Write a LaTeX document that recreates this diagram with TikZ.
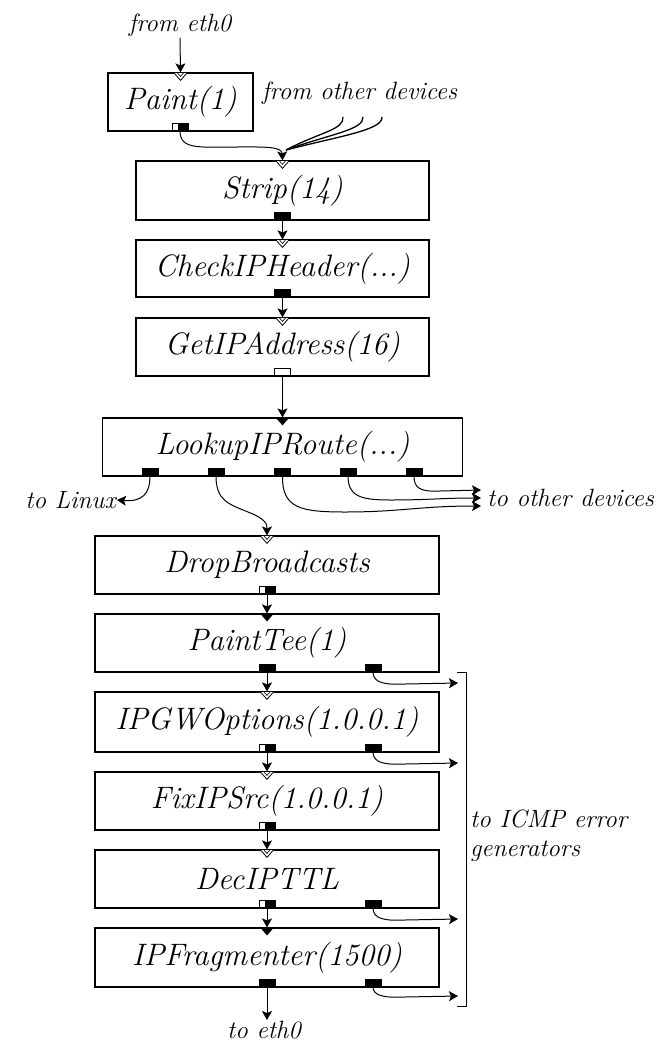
\documentclass[tikz,border=0pt]{standalone}
\usetikzlibrary{arrows.meta}
\begin{document}
\begin{tikzpicture}[x=1pt,y=-1pt,
 elem/.style={draw, line width=1.2pt, inner sep=0pt, font=\fontsize{31}{34}\selectfont\itshape},
 lbl/.style={inner sep=1pt, font=\fontsize{25}{29}\selectfont\itshape, align=left},
 pushport/.style={draw, fill=black, line width=0.8pt, minimum width=16pt, minimum height=7pt, inner sep=0pt, anchor=south},
 agnport/.style={pushport, fill=white, path picture={\fill[black] ([xshift=6pt]path picture bounding box.south west) rectangle (path picture bounding box.north east);}},
 pullport/.style={pushport, fill=white},
 conn/.style={line width=1pt, -{Stealth[length=9pt,width=10pt,inset=2pt]}},
 wire/.style={line width=1pt},
 pics/pushin/.style={code={\fill (-7,0) -- (7,0) -- (0,8) -- cycle;}},
 pics/agnin/.style={code={\draw[fill=white, line width=0.8pt] (-7,0) -- (7,0) -- (0,8) -- cycle; \draw[line width=0.6pt] (-3.5,0) -- (0,4) -- (3.5,0);}}
]
\useasboundingbox[fill=white] (0,0) rectangle (662,1045);

% elements
\node[elem, minimum width=145pt, minimum height=58pt] (paint) at (180.5,102) {Paint(1)};
\node[elem, minimum width=293pt, minimum height=59pt] (strip) at (282.5,190.5) {Strip(14)};
\node[elem, minimum width=293pt, minimum height=57pt] (check) at (282.5,268.5) {CheckIPHeader(...)};
\node[elem, minimum width=293pt, minimum height=58pt] (getip) at (282.5,347) {GetIPAddress(16)};
\node[elem, minimum width=360pt, minimum height=58pt] (lookup) at (282.5,447) {LookupIPRoute(...)};
\node[elem, minimum width=344pt, minimum height=58pt] (drop) at (267,565) {DropBroadcasts};
\node[elem, minimum width=344pt, minimum height=58pt] (ptee) at (267,643) {PaintTee(1)};
\node[elem, minimum width=344pt, minimum height=60pt] (ipgw) at (267,722) {IPGWOptions(1.0.0.1)};
\node[elem, minimum width=344pt, minimum height=58pt] (fixip) at (267,801) {FixIPSrc(1.0.0.1)};
\node[elem, minimum width=344pt, minimum height=58pt] (dec) at (267,879) {DecIPTTL};
\node[elem, minimum width=344pt, minimum height=59pt] (frag) at (267,957.5) {IPFragmenter(1500)};

% input markers
\pic at (paint.north) {agnin};
\pic at (strip.north) {agnin};
\pic at (check.north) {agnin};
\pic at (getip.north) {agnin};
\pic at (lookup.north) {pushin};
\pic at (drop.north) {agnin};
\pic at (ptee.north) {pushin};
\pic at (ipgw.north) {agnin};
\pic at (fixip.north) {agnin};
\pic at (dec.north) {agnin};
\pic at (frag.north) {pushin};

% output ports
\node[agnport] (paintout) at (180,131) {};
\node[pushport] (stripout) at (282.5,220) {};
\node[pushport] (checkout) at (282.5,297) {};
\node[pullport] (getipout) at (282.5,376) {};
\node[pushport] (lk1) at (150,476) {};
\node[pushport] (lk2) at (216,476) {};
\node[pushport] (lk3) at (282.5,476) {};
\node[pushport] (lk4) at (348,476) {};
\node[pushport] (lk5) at (414,476) {};
\node[agnport] (dropout) at (267,594) {};
\node[pushport] (pteeout) at (267,672) {};
\node[pushport] (pteeerr) at (373,672) {};
\node[agnport] (ipgwout) at (267,752) {};
\node[pushport] (ipgwerr) at (373,752) {};
\node[agnport] (fixipout) at (267,830) {};
\node[agnport] (decout) at (267,908) {};
\node[pushport] (decerr) at (373,908) {};
\node[pushport] (fragout) at (267,987) {};
\node[pushport] (fragerr) at (373,987) {};

% labels
\node[lbl, anchor=south] (frometh) at (180,38) {from eth0};
\node[lbl, anchor=west] (fromother) at (261,93) {from other devices};
\node[lbl, anchor=east] (tolinux) at (117,500) {to Linux};
\node[lbl, anchor=west] (toother) at (486,498) {to other devices};
\node[lbl, anchor=north] (toeth) at (264,1020) {to eth0};
\node[lbl, anchor=north west] (toicmp) at (469,809) {to ICMP error\\generators};

\coordinate (od1) at (343,117);
\coordinate (od2) at (363,117);
\coordinate (od3) at (382,117);
\coordinate (merge) at (286,150);
\coordinate (to1) at (481,490);
\coordinate (to2) at (481,498);
\coordinate (to3) at (481,506);
\coordinate (ic1) at (458,683);
\coordinate (ic2) at (458,763);
\coordinate (ic3) at (458,919);
\coordinate (ic4) at (458,996);

% connectors
\draw[conn] (frometh.south) -- (paint.north);
\draw[conn] (paintout.south) .. controls (180,150) and (200,147) .. (235,147) .. controls (262,147) and (282,146) .. (strip.north);
\draw[wire, line width=1.3pt] (od1) .. controls (344,130) and (320,132) .. (merge);
\draw[wire, line width=1.3pt] (od2) .. controls (364,130) and (330,134) .. (merge);
\draw[wire, line width=1.3pt] (od3) .. controls (383,130) and (340,136) .. (merge);
\draw[conn] (stripout.south) -- (check.north);
\draw[conn] (checkout.south) -- (getip.north);
\draw[conn] (getipout.south) -- (lookup.north);
\draw[conn] (lk1.south) .. controls (150,494) and (142,502) .. (tolinux.east);
\draw[conn] (lk2.south) .. controls (216,500) and (228,504) .. (248,512) .. controls (266,519) and (267,524) .. (drop.north);
\draw[conn] (lk3.south) .. controls (282,508) and (300,512) .. (345,512) .. controls (400,512) and (420,506) .. (to3);
\draw[conn] (lk4.south) .. controls (348,496) and (360,500) .. (390,500) .. controls (430,500) and (440,498) .. (to2);
\draw[conn] (lk5.south) .. controls (414,488) and (420,492) .. (440,491) -- (to1);
\draw[conn] (dropout.south) -- (ptee.north);
\draw[conn] (pteeout.south) -- (ipgw.north);
\draw[conn] (ipgwout.south) -- (fixip.north);
\draw[conn] (fixipout.south) -- (dec.north);
\draw[conn] (decout.south) -- (frag.north);
\draw[conn] (fragout.south) -- (fragout.south |- toeth.north);
\draw[conn] (pteeerr.south) .. controls (373,683) and (385,685) .. (405,684) -- (ic1);
\draw[conn] (ipgwerr.south) .. controls (373,763) and (385,765) .. (405,764) -- (ic2);
\draw[conn] (decerr.south) .. controls (373,919) and (385,921) .. (405,920) -- (ic3);
\draw[conn] (fragerr.south) .. controls (373,996) and (385,998) .. (405,997) -- (ic4);

% bracket
\draw[line width=1pt] (457,672) -- (466,672) -- (466,1006) -- (457,1006);
\end{tikzpicture}
\end{document}
